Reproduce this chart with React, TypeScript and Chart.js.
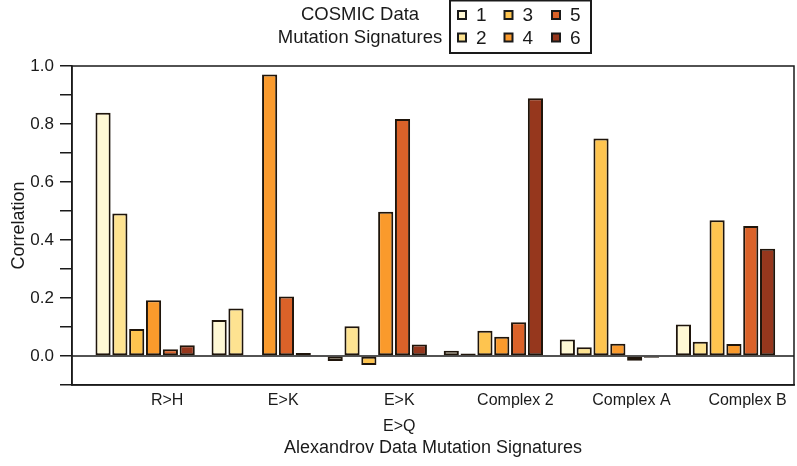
import React, { useEffect, useRef } from "react";
import { Chart, registerables } from "chart.js";

Chart.register(...registerables);

const categories: (string | string[])[] = ["R>H", "E>K", ["E>K", "E>Q"], "Complex 2", "Complex A", "Complex B"];
const seriesNames = ["1", "2", "3", "4", "5", "6"];
const sig1 = [0.839, 0.124, -0.017, 0.018, 0.057, 0.109];
const sig2 = [0.491, 0.164, 0.103, 0.009, 0.03, 0.049];
const sig3 = [0.093, 0.003, -0.031, 0.087, 0.75, 0.468];
const sig4 = [0.192, 0.971, 0.497, 0.066, 0.042, 0.041];
const sig5 = [0.023, 0.205, 0.817, 0.116, -0.016, 0.448];
const sig6 = [0.037, 0.01, 0.04, 0.889, -0.006, 0.37];
const seriesColors = ["#fff8d4", "#fee391", "#fec44f", "#fa9a2c", "#da6229", "#96371d"];
const yMajorTicks = [0, 0.2, 0.4, 0.6, 0.8, 1.0];
const legendTitle = ["COSMIC Data", "Mutation Signatures"];
const yTitle = "Correlation";
const xTitle = "Alexandrov Data Mutation Signatures";

const FONT = "'Liberation Sans', Arial, Helvetica, sans-serif";
const INK = "#1a1a1a";

const framePlugin = {
  id: "frameAndZero",
  beforeDatasetsDraw(chart: any) {
    const { ctx, chartArea, scales } = chart;
    const y0 = scales.y.getPixelForValue(0);
    ctx.save();
    ctx.strokeStyle = INK;
    ctx.lineWidth = 1.5;
    ctx.beginPath();
    ctx.moveTo(chartArea.left, y0);
    ctx.lineTo(chartArea.right, y0);
    ctx.stroke();
    ctx.restore();
  },
  afterDraw(chart: any) {
    const { ctx, chartArea } = chart;
    const { left, right, top, bottom } = chartArea;
    ctx.save();
    ctx.strokeStyle = INK;
    ctx.lineWidth = 1.5;
    ctx.beginPath();
    ctx.moveTo(left, top);
    ctx.lineTo(right, top);
    ctx.lineTo(right, bottom);
    ctx.lineTo(left, bottom);
    ctx.closePath();
    ctx.stroke();

    // legend
    ctx.lineWidth = 2;
    ctx.strokeRect(450, 0.5, 141, 52.5);
    ctx.fillStyle = INK;
    ctx.font = `18.5px ${FONT}`;
    ctx.textAlign = "center";
    ctx.textBaseline = "middle";
    ctx.fillText(legendTitle[0], 360, 15);
    ctx.fillText(legendTitle[1], 360, 38);
    const colX = [462, 508.5, 556];
    const rowY = [15, 37.5];
    ctx.font = `19px ${FONT}`;
    ctx.textAlign = "left";
    seriesNames.forEach((name, i) => {
      const cx = colX[Math.floor(i / 2)];
      const cy = rowY[i % 2];
      ctx.fillStyle = seriesColors[i];
      ctx.fillRect(cx - 4, cy - 4, 8, 8);
      ctx.lineWidth = 2;
      ctx.strokeStyle = INK;
      ctx.strokeRect(cx - 4, cy - 4, 8, 8);
      ctx.fillStyle = INK;
      ctx.fillText(name, cx + 14, cy + 1);
    });
    ctx.restore();
  },
};

export default function App() {
  const ref = useRef<HTMLCanvasElement | null>(null);
  useEffect(() => {
    if (!ref.current) return;
    const all = [sig1, sig2, sig3, sig4, sig5, sig6];
    const chart = new Chart(ref.current, {
      type: "bar",
      data: {
        labels: categories as any,
        datasets: all.map((d, i) => ({
          label: seriesNames[i],
          data: d,
          backgroundColor: seriesColors[i],
          borderColor: "#1f150b",
          borderWidth: 2,
          borderSkipped: false,
          categoryPercentage: 0.87,
          barPercentage: 0.9,
        })),
      },
      options: {
        animation: false,
        responsive: true,
        maintainAspectRatio: false,
        devicePixelRatio: 1,
        layout: { padding: { top: 66, right: 3, left: 0, bottom: 0 } },
        plugins: { legend: { display: false }, tooltip: { enabled: false }, title: { display: false } },
        scales: {
          x: {
            offset: true,
            grid: { display: false, drawTicks: false },
            border: { display: true, color: INK, width: 1.5 },
            ticks: {
              color: INK,
              font: { family: FONT, size: 16, lineHeight: 1.6 },
              padding: 3,
              labelOffset: 22,
              maxRotation: 0,
              autoSkip: false,
            },
            title: {
              display: true,
              text: xTitle,
              color: INK,
              font: { family: FONT, size: 18 },
              padding: { top: 0, bottom: 7 },
            },
            afterBuildTicks: (scale: any) => {
              scale._startValue = -0.63;
              scale._valueRange = 6.22;
            },
            afterFit: (scale: any) => {
              scale.height = 81;
            },
          },
          y: {
            min: -0.1,
            max: 1.0,
            grid: {
              display: true,
              drawOnChartArea: false,
              drawTicks: true,
              tickLength: 12,
              color: INK,
              lineWidth: 1.5,
            },
            border: { display: true, color: INK, width: 1.5 },
            ticks: {
              stepSize: 0.1,
              color: INK,
              font: { family: FONT, size: 17 },
              padding: 6,
              callback: (v: any) => {
                const n = Number(v);
                const hit = yMajorTicks.find((t) => Math.abs(t - n) < 1e-6);
                return hit !== undefined ? hit.toFixed(1) : "";
              },
            },
            title: {
              display: true,
              text: yTitle,
              color: INK,
              font: { family: FONT, size: 18 },
              padding: { top: 8, bottom: 0 },
            },
            afterFit: (scale: any) => {
              scale.width = 72;
            },
          },
        },
      },
      plugins: [framePlugin],
    });
    return () => chart.destroy();
  }, []);
  return (
    <div style={{ position: "absolute", left: 0, top: 0, width: 797, height: 466, background: "#fff" }}>
      <canvas ref={ref} />
    </div>
  );
}
